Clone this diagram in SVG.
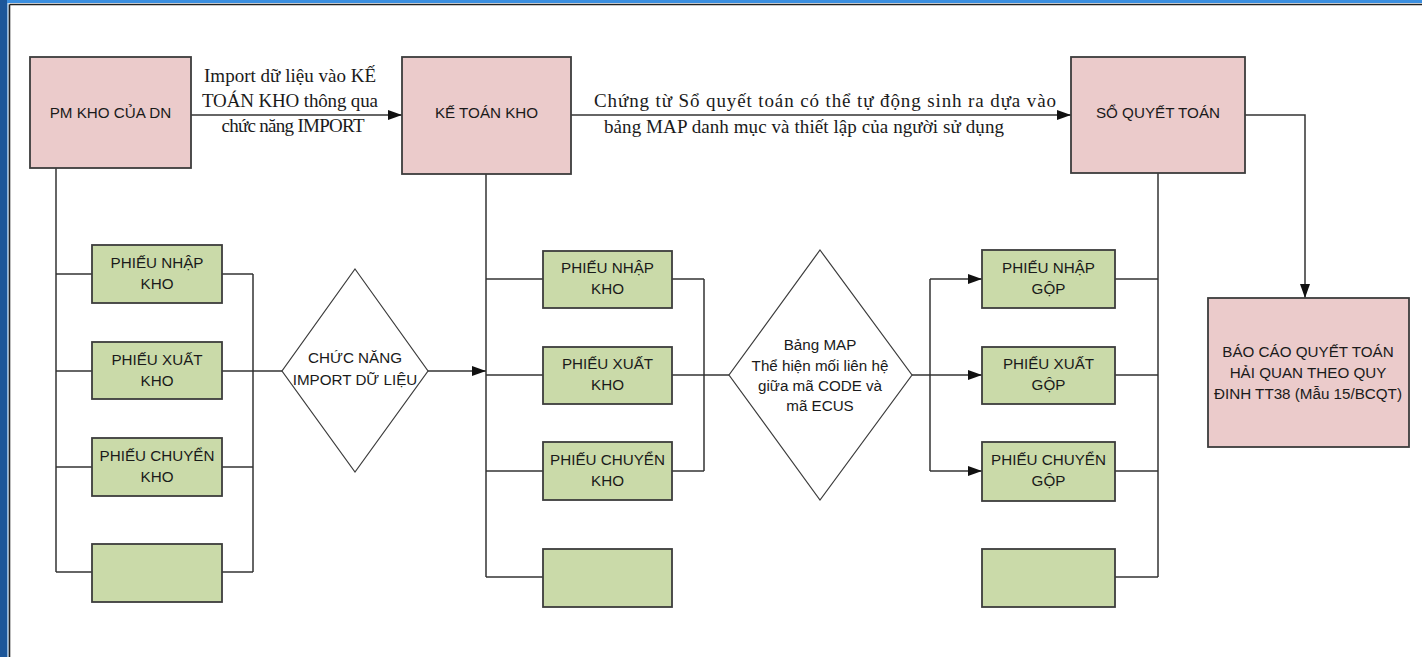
<svg xmlns="http://www.w3.org/2000/svg" width="1422" height="657" viewBox="0 0 1422 657">
  <style>
    .pink { fill: #ebcbcb; stroke: #3c3c3c; stroke-width: 1.8; }
    .green { fill: #cadaa9; stroke: #3c3c3c; stroke-width: 1.8; }
    .dia { fill: #ffffff; stroke: #3c3c3c; stroke-width: 1.2; }
    .lbl { font-family: "Liberation Sans", Arial, sans-serif; font-size: 15.2px; fill: #1a1a1a; text-anchor: middle; }
    .note { font-family: "Liberation Serif", "Times New Roman", serif; font-size: 19px; fill: #1a1a1a; text-anchor: middle; }
    .wire { fill: none; stroke: #333333; stroke-width: 1.5; }
  </style>
  <defs>
    <marker id="arrow" viewBox="0 0 14 10" refX="14" refY="5" markerWidth="14" markerHeight="10" markerUnits="userSpaceOnUse" orient="auto">
      <path d="M0,0 L14,5 L0,10 Z" fill="#111111"/>
    </marker>
  </defs>

  <!-- window frame -->
  <rect x="0" y="0" width="1422" height="657" fill="#ffffff"/>
  <rect x="0" y="0" width="1422" height="3" fill="#3b8fe0"/>
  <rect x="0" y="0" width="7" height="657" fill="#1c5699"/>
  <rect x="7" y="3" width="1.5" height="654" fill="#8fb8e0"/>
  <line x1="9.5" y1="4.5" x2="1422" y2="4.5" stroke="#222222" stroke-width="1.6"/>
  <line x1="9.5" y1="4.5" x2="9.5" y2="657" stroke="#222222" stroke-width="1.6"/>

  <!-- connectors -->
  <g id="connectors">
    <!-- top flow -->
    <line class="wire" x1="189" y1="115" x2="402" y2="115" marker-end="url(#arrow)"/>
    <line class="wire" x1="571" y1="115" x2="1071" y2="115" marker-end="url(#arrow)"/>
    <polyline class="wire" points="1245,115 1305,115 1305,298" marker-end="url(#arrow)"/>

    <!-- left column bus -->
    <line class="wire" x1="56" y1="168" x2="56" y2="572"/>
    <line class="wire" x1="56" y1="274" x2="92" y2="274"/>
    <line class="wire" x1="56" y1="371" x2="92" y2="371"/>
    <line class="wire" x1="56" y1="467" x2="92" y2="467"/>
    <line class="wire" x1="56" y1="572" x2="92" y2="572"/>
    <line class="wire" x1="253" y1="274" x2="253" y2="572"/>
    <line class="wire" x1="222" y1="274" x2="253" y2="274"/>
    <line class="wire" x1="222" y1="371" x2="282" y2="371"/>
    <line class="wire" x1="222" y1="467" x2="253" y2="467"/>
    <line class="wire" x1="222" y1="572" x2="253" y2="572"/>
    <line class="wire" x1="428" y1="371" x2="486" y2="371" marker-end="url(#arrow)"/>

    <!-- middle column bus -->
    <line class="wire" x1="486" y1="174" x2="486" y2="577"/>
    <line class="wire" x1="486" y1="279" x2="543" y2="279"/>
    <line class="wire" x1="486" y1="375" x2="543" y2="375"/>
    <line class="wire" x1="486" y1="471" x2="543" y2="471"/>
    <line class="wire" x1="486" y1="577" x2="543" y2="577"/>
    <line class="wire" x1="704" y1="279" x2="704" y2="471"/>
    <line class="wire" x1="672" y1="279" x2="704" y2="279"/>
    <line class="wire" x1="672" y1="375" x2="729" y2="375" stroke-width="2"/>
    <line class="wire" x1="672" y1="471" x2="704" y2="471"/>

    <!-- map to merged vouchers -->
    <line class="wire" x1="912" y1="375" x2="930" y2="375"/>
    <line class="wire" x1="930" y1="279" x2="930" y2="471"/>
    <line class="wire" x1="930" y1="279" x2="982" y2="279" marker-end="url(#arrow)"/>
    <line class="wire" x1="930" y1="375" x2="982" y2="375" marker-end="url(#arrow)"/>
    <line class="wire" x1="930" y1="471" x2="982" y2="471" marker-end="url(#arrow)"/>

    <!-- right column bus -->
    <line class="wire" x1="1158" y1="173" x2="1158" y2="577"/>
    <line class="wire" x1="1115" y1="279" x2="1158" y2="279"/>
    <line class="wire" x1="1115" y1="375" x2="1158" y2="375"/>
    <line class="wire" x1="1115" y1="471" x2="1158" y2="471"/>
    <line class="wire" x1="1115" y1="577" x2="1158" y2="577"/>
  </g>

  <!-- edge labels -->
  <g id="label-import">
    <text class="note" x="290" y="82" textLength="172" lengthAdjust="spacing">Import dữ liệu vào KẾ</text>
    <text class="note" x="290" y="107" textLength="176" lengthAdjust="spacing">TOÁN KHO thông qua</text>
    <text class="note" x="293" y="132" textLength="143" lengthAdjust="spacing">chức năng IMPORT</text>
  </g>
  <g id="label-generate">
    <text class="note" x="825" y="107" textLength="462" lengthAdjust="spacing">Chứng từ Sổ quyết toán có thể tự động sinh ra dựa vào</text>
    <text class="note" x="804" y="133" textLength="400" lengthAdjust="spacing">bảng MAP danh mục và thiết lập của người sử dụng</text>
  </g>

  <!-- main nodes -->
  <g id="pm-kho">
    <rect class="pink" x="30" y="57" width="161" height="111"/>
    <text class="lbl" x="110.5" y="118">PM KHO CỦA DN</text>
  </g>
  <g id="ke-toan-kho">
    <rect class="pink" x="402" y="57" width="169" height="117"/>
    <text class="lbl" x="486.5" y="118">KẾ TOÁN KHO</text>
  </g>
  <g id="so-quyet-toan">
    <rect class="pink" x="1071" y="57" width="174" height="116"/>
    <text class="lbl" x="1158" y="118">SỔ QUYẾT TOÁN</text>
  </g>
  <g id="bao-cao">
    <rect class="pink" x="1208" y="298" width="201" height="149"/>
    <text class="lbl" x="1308" y="357">BÁO CÁO QUYẾT TOÁN</text>
    <text class="lbl" x="1308" y="378">HẢI QUAN THEO QUY</text>
    <text class="lbl" x="1308" y="399">ĐINH TT38 (Mẫu 15/BCQT)</text>
  </g>

  <!-- decisions -->
  <g id="chuc-nang-import">
    <polygon class="dia" points="355,269 428,371 355,472 282,371"/>
    <text class="lbl" x="355" y="363">CHỨC NĂNG</text>
    <text class="lbl" x="355" y="385">IMPORT DỮ LIỆU</text>
  </g>
  <g id="bang-map">
    <polygon class="dia" points="820,250 912,375 820,500 729,375"/>
    <text class="lbl" x="820" y="350">Bảng MAP</text>
    <text class="lbl" x="820" y="371">Thể hiện mối liên hệ</text>
    <text class="lbl" x="820" y="391">giữa mã CODE và</text>
    <text class="lbl" x="820" y="411">mã ECUS</text>
  </g>

  <!-- warehouse vouchers (source) -->
  <g id="src-nhap">
    <rect class="green" x="92" y="245" width="130" height="58"/>
    <text class="lbl" x="157" y="268">PHIẾU NHẬP</text>
    <text class="lbl" x="157" y="289">KHO</text>
  </g>
  <g id="src-xuat">
    <rect class="green" x="92" y="342" width="130" height="57"/>
    <text class="lbl" x="157" y="365">PHIẾU XUẤT</text>
    <text class="lbl" x="157" y="386">KHO</text>
  </g>
  <g id="src-chuyen">
    <rect class="green" x="92" y="438" width="130" height="58"/>
    <text class="lbl" x="157" y="461">PHIẾU CHUYỂN</text>
    <text class="lbl" x="157" y="482">KHO</text>
  </g>
  <g id="src-other">
    <rect class="green" x="92" y="544" width="130" height="58"/>
  </g>

  <!-- warehouse vouchers (accounting) -->
  <g id="kt-nhap">
    <rect class="green" x="543" y="251" width="129" height="57"/>
    <text class="lbl" x="607.5" y="273">PHIẾU NHẬP</text>
    <text class="lbl" x="607.5" y="294">KHO</text>
  </g>
  <g id="kt-xuat">
    <rect class="green" x="543" y="347" width="129" height="57"/>
    <text class="lbl" x="607.5" y="369">PHIẾU XUẤT</text>
    <text class="lbl" x="607.5" y="390">KHO</text>
  </g>
  <g id="kt-chuyen">
    <rect class="green" x="543" y="442" width="129" height="58"/>
    <text class="lbl" x="607.5" y="465">PHIẾU CHUYỂN</text>
    <text class="lbl" x="607.5" y="486">KHO</text>
  </g>
  <g id="kt-other">
    <rect class="green" x="543" y="549" width="129" height="58"/>
  </g>

  <!-- merged vouchers -->
  <g id="gop-nhap">
    <rect class="green" x="982" y="250" width="133" height="58"/>
    <text class="lbl" x="1048.5" y="273">PHIẾU NHẬP</text>
    <text class="lbl" x="1048.5" y="294">GỘP</text>
  </g>
  <g id="gop-xuat">
    <rect class="green" x="982" y="347" width="133" height="57"/>
    <text class="lbl" x="1048.5" y="369">PHIẾU XUẤT</text>
    <text class="lbl" x="1048.5" y="390">GỘP</text>
  </g>
  <g id="gop-chuyen">
    <rect class="green" x="982" y="442" width="133" height="59"/>
    <text class="lbl" x="1048.5" y="465">PHIẾU CHUYỂN</text>
    <text class="lbl" x="1048.5" y="486">GỘP</text>
  </g>
  <g id="gop-other">
    <rect class="green" x="982" y="549" width="133" height="58"/>
  </g>
</svg>
